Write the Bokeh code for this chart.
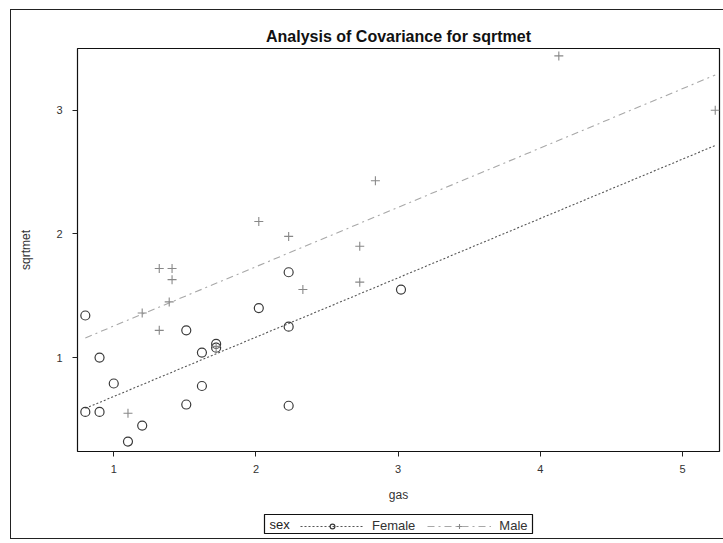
from bokeh.plotting import figure
from bokeh.layouts import column
from bokeh.models import Legend, LegendItem, FixedTicker, Label
from bokeh.embed import file_html
from bokeh.resources import INLINE

# Female group: gas vs sqrtmet
gas_female = [0.80, 0.80, 0.90, 0.90, 1.00, 1.10, 1.20, 1.51, 1.51, 1.62,
              1.62, 1.72, 1.72, 2.02, 2.23, 2.23, 2.23, 3.02]
met_female = [1.34, 0.56, 1.00, 0.56, 0.79, 0.32, 0.45, 1.22, 0.62, 1.04,
              0.77, 1.11, 1.08, 1.40, 1.69, 1.25, 0.61, 1.55]

# Male group: gas vs sqrtmet
gas_male = [1.10, 1.20, 1.32, 1.32, 1.41, 1.41, 1.39, 1.72, 2.02, 2.23,
            2.33, 2.73, 2.73, 2.84, 4.13, 5.23]
met_male = [0.55, 1.36, 1.22, 1.72, 1.72, 1.63, 1.45, 1.09, 2.10, 1.98,
            1.55, 1.90, 1.61, 2.43, 3.44, 3.00]

# ANCOVA fit: common slope, separate intercepts
slope = 0.48
intercept_female = 0.205
intercept_male = 0.775

x_ticks = [1, 2, 3, 4, 5]
y_ticks = [1, 2, 3]

FONT = "Liberation Sans"
DARK = "#3a3a3a"
LIGHT = "#a8a8a8"

# styles shared by the plotted marks and their legend keys
F_LINE = dict(line_color="#555", line_width=1.1, line_dash="2 2")
M_LINE = dict(line_color=LIGHT, line_width=1.1, line_dash="7 4 2 4")
F_PTS = dict(marker="circle", size=9, fill_color=None, line_color=DARK, line_width=1.2)
M_PTS = dict(marker="cross", size=9, line_color="#888", line_width=1.1)

BORDER_L, BORDER_R = 66, 5

p = figure(width=713, height=496, x_range=(0.745, 5.26), y_range=(0.24, 3.5),
           output_backend="svg", toolbar_location=None,
           min_border_left=BORDER_L, min_border_right=BORDER_R,
           min_border_top=38, min_border_bottom=55)

p.title.text = "Analysis of Covariance for sqrtmet"
p.title.align = "center"
p.title.text_font = FONT
p.title.text_font_size = "16px"
p.title.text_font_style = "bold"
p.title.text_color = "#111"
p.title.standoff = 8

p.xgrid.visible = False
p.ygrid.visible = False
p.outline_line_color = "#111"
p.outline_line_width = 1.2

for ax in (p.xaxis[0], p.yaxis[0]):
    ax.axis_line_color = None
    ax.major_tick_line_color = "#222"
    ax.major_tick_out = 5
    ax.major_tick_in = 0
    ax.minor_tick_line_color = None
    ax.major_label_text_font = FONT
    ax.major_label_text_font_size = "11px"
    ax.major_label_text_color = "#333"
    ax.axis_label_text_font = FONT
    ax.axis_label_text_font_size = "12px"
    ax.axis_label_text_font_style = "normal"
    ax.axis_label_text_color = "#333"

p.xaxis.ticker = FixedTicker(ticks=x_ticks)
p.yaxis.ticker = FixedTicker(ticks=y_ticks)
p.xaxis.axis_label = "gas"
p.yaxis.axis_label = "sqrtmet"
p.xaxis.major_label_standoff = 8
p.xaxis.axis_label_standoff = 12
p.yaxis.major_label_standoff = 10
p.yaxis.axis_label_standoff = 20

# fitted lines over the observed gas range
x_lo = min(gas_female + gas_male)
x_hi = max(gas_female + gas_male)
fx = [x_lo, x_hi]
fy_f = [intercept_female + slope * v for v in fx]
fy_m = [intercept_male + slope * v for v in fx]

p.line(fx, fy_f, **F_LINE)
p.line(fx, fy_m, **M_LINE)
p.scatter(gas_female, met_female, **F_PTS)
p.scatter(gas_male, met_male, **M_PTS)

# boxed legend strip under the plot: its frame is the legend box.
# The column lines up frame borders, so this strip keeps the same side borders.
q = figure(width=268 + BORDER_L + BORDER_R, height=20,
           x_range=(-10, -9), y_range=(-10, -9),
           output_backend="svg", toolbar_location=None,
           x_axis_location=None, y_axis_location=None,
           min_border_left=BORDER_L, min_border_right=BORDER_R,
           min_border_top=0, min_border_bottom=0)
q.margin = (8, 0, 4, 253 - BORDER_L)
q.xgrid.visible = False
q.ygrid.visible = False
q.outline_line_color = "#111"
q.outline_line_width = 1.2

# legend keys reuse the series (their data lie outside this strip's view)
kf_line = q.line(fx, fy_f, **F_LINE)
km_line = q.line(fx, fy_m, **M_LINE)
kf_pts = q.scatter(gas_female, met_female, **F_PTS)
km_pts = q.scatter(gas_male, met_male, **M_PTS)

q.add_layout(Label(x=5, y=10, x_units="screen", y_units="screen", text="sex",
                   text_font=FONT, text_font_size="13px",
                   text_baseline="middle", text_color="#222"))

legend = Legend(items=[
    LegendItem(label="Female", renderers=[kf_line, kf_pts]),
    LegendItem(label="Male", renderers=[km_line, km_pts]),
], orientation="horizontal", location=(36, 1))
legend.label_text_font = FONT
legend.label_text_font_size = "13px"
legend.label_text_color = "#333"
legend.glyph_width = 64
legend.glyph_height = 12
legend.label_standoff = 8
legend.spacing = 12
legend.padding = 2
legend.margin = 0
legend.border_line_color = None
legend.background_fill_alpha = 0
q.add_layout(legend)

root = column(p, q)
root.margin = (9, 0, 0, 10)
root.styles = {"border-left": "1px solid #222", "border-top": "1px solid #222",
               "border-bottom": "1px solid #222"}

open("out.html", "w").write(file_html(root, INLINE))
